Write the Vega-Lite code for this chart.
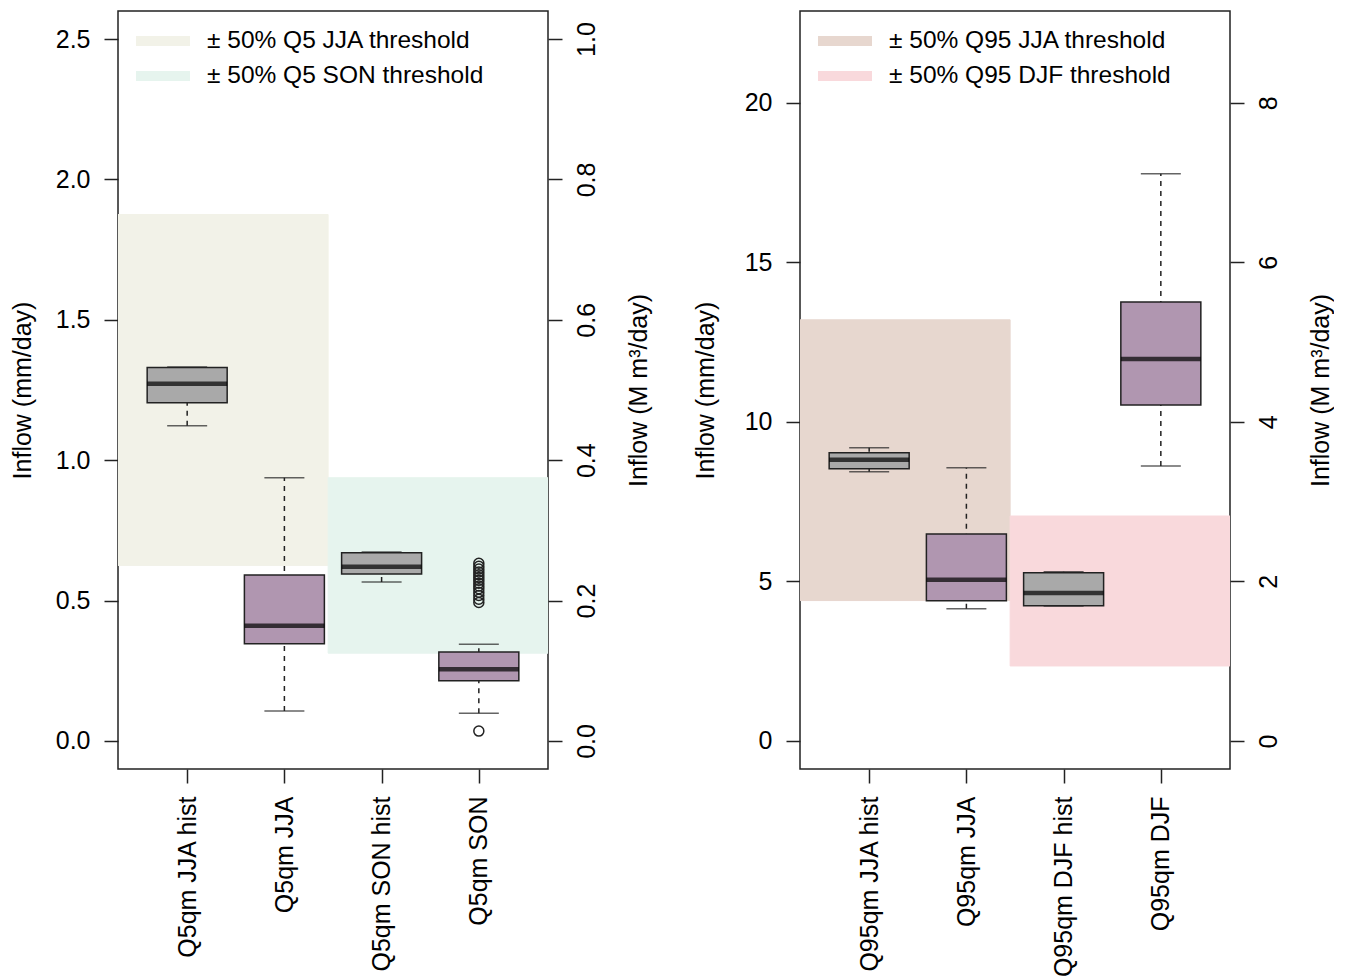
{
  "$schema": "https://vega.github.io/schema/vega-lite/v6.json",
  "padding": {"left": 9, "top": 10, "right": 0, "bottom": 0},
  "background": "white",
  "config": {
    "font": "Liberation Sans",
    "view": {"stroke": "#222", "strokeWidth": 1.5},
    "axis": {
      "grid": false, "domain": false, "tickColor": "#222", "tickWidth": 1.5, "tickSize": 14,
      "labelFontSize": 25, "labelColor": "#000", "labelFont": "Liberation Sans",
      "titleFontSize": 25, "titleFontWeight": "normal", "titleColor": "#000", "titleFont": "Liberation Sans",
      "labelLimit": 400, "labelOverlap": false
    },
    "legend": {
      "orient": "none", "legendX": 30, "legendY": 15, "padding": 0,
      "symbolType": "M-2.7,0H2.7", "symbolSize": 400, "symbolStrokeWidth": 10,
      "labelFontSize": 24.5, "labelColor": "#000", "labelFont": "Liberation Sans", "labelOffset": 29,
      "rowPadding": -15, "labelLimit": 400
    }
  },
  "datasets": {
    "bandL": [
      {"x1": 0, "x2": 2.45, "lo": 0.625, "hi": 1.875, "band": "± 50% Q5 JJA threshold"},
      {"x1": 2.45, "x2": 5, "lo": 0.3125, "hi": 0.9375, "band": "± 50% Q5 SON threshold"}
    ],
    "boxL": [
      {"pos": 1, "kind": "hist", "lower": 1.123, "q1": 1.205, "median": 1.272, "q3": 1.33, "upper": 1.332},
      {"pos": 2, "kind": "future", "lower": 0.107, "q1": 0.346, "median": 0.41, "q3": 0.591, "upper": 0.937},
      {"pos": 3, "kind": "hist", "lower": 0.566, "q1": 0.595, "median": 0.62, "q3": 0.67, "upper": 0.673},
      {"pos": 4, "kind": "future", "lower": 0.099, "q1": 0.214, "median": 0.255, "q3": 0.317, "upper": 0.344}
    ],
    "outL": [
      {"pos": 4, "value": 0.633}, {"pos": 4, "value": 0.622}, {"pos": 4, "value": 0.612},
      {"pos": 4, "value": 0.602}, {"pos": 4, "value": 0.592}, {"pos": 4, "value": 0.582},
      {"pos": 4, "value": 0.572}, {"pos": 4, "value": 0.562}, {"pos": 4, "value": 0.552},
      {"pos": 4, "value": 0.542}, {"pos": 4, "value": 0.53}, {"pos": 4, "value": 0.518},
      {"pos": 4, "value": 0.505}, {"pos": 4, "value": 0.493}, {"pos": 4, "value": 0.035}
    ],
    "bandR": [
      {"x1": 0, "x2": 2.45, "lo": 4.4, "hi": 13.2, "band": "± 50% Q95 JJA threshold"},
      {"x1": 2.45, "x2": 5, "lo": 2.35, "hi": 7.05, "band": "± 50% Q95 DJF threshold"}
    ],
    "boxR": [
      {"pos": 1, "kind": "hist", "lower": 8.44, "q1": 8.53, "median": 8.81, "q3": 9.03, "upper": 9.19},
      {"pos": 2, "kind": "future", "lower": 4.14, "q1": 4.39, "median": 5.05, "q3": 6.49, "upper": 8.56},
      {"pos": 3, "kind": "hist", "lower": 4.23, "q1": 4.24, "median": 4.64, "q3": 5.27, "upper": 5.3},
      {"pos": 4, "kind": "future", "lower": 8.62, "q1": 10.53, "median": 11.97, "q3": 13.76, "upper": 17.78}
    ]
  },
  "hconcat": [
    {
      "width": 430, "height": 758,
      "layer": [
        {
          "data": {"name": "bandL"},
          "mark": {"type": "rect", "clip": true, "strokeWidth": 1},
          "encoding": {
            "x": {"field": "x1", "type": "quantitative", "scale": {"domain": [0.34, 4.66], "nice": false, "zero": false},
              "axis": {"values": [1, 2, 3, 4], "labelExpr": "['', 'Q5qm JJA hist', 'Q5qm JJA', 'Q5qm SON hist', 'Q5qm SON'][datum.value]",
                "labelAngle": 270, "labelAlign": "right", "labelBaseline": "middle", "labelPadding": 13, "title": null}},
            "x2": {"field": "x2"},
            "y": {"field": "lo", "type": "quantitative", "scale": {"domain": [-0.1, 2.6], "nice": false, "zero": false},
              "axis": {"values": [0, 0.5, 1, 1.5, 2, 2.5], "format": ".1f", "title": "Inflow (mm/day)", "labelPadding": 14,
                "titleAngle": 270, "titleBaseline": "middle", "titleX": -96, "titleY": 379}},
            "y2": {"field": "hi"},
            "fill": {"field": "band", "type": "nominal", "scale": {"domain": ["± 50% Q5 JJA threshold", "± 50% Q5 SON threshold"], "range": ["#F2F2E8", "#E6F4EE"]},
              "legend": {"title": null}},
            "stroke": {"field": "band", "type": "nominal", "scale": {"domain": ["± 50% Q5 JJA threshold", "± 50% Q5 SON threshold"], "range": ["#F2F2E8", "#E6F4EE"]},
              "legend": {"title": null}}
          }
        },
        {
          "data": {"name": "boxL"},
          "mark": {"type": "rule", "strokeDash": [5, 5], "strokeWidth": 1.5, "color": "#222"},
          "encoding": {
            "x": {"field": "pos", "type": "quantitative"},
            "y": {"field": "lower", "type": "quantitative",
              "axis": {"orient": "right", "values": [0, 0.5, 1, 1.5, 2, 2.5], "labelExpr": "format(datum.value * 0.4, '.1f')",
                "labelAngle": 270, "labelAlign": "center", "labelBaseline": "top", "labelPadding": 12,
                "title": "Inflow (M m³/day)", "titleAngle": 270, "titleBaseline": "middle", "titleX": 90, "titleY": 379}},
            "y2": {"field": "upper"}
          }
        },
        {
          "data": {"name": "boxL"},
          "mark": {"type": "tick", "orient": "horizontal", "size": 40, "thickness": 1.5, "color": "#222"},
          "encoding": {
            "x": {"field": "pos", "type": "quantitative"},
            "y": {"field": "lower", "type": "quantitative", "axis": null}
          }
        },
        {
          "data": {"name": "boxL"},
          "mark": {"type": "tick", "orient": "horizontal", "size": 40, "thickness": 1.5, "color": "#222"},
          "encoding": {
            "x": {"field": "pos", "type": "quantitative"},
            "y": {"field": "upper", "type": "quantitative", "axis": null}
          }
        },
        {
          "data": {"name": "boxL"},
          "mark": {"type": "bar", "orient": "vertical", "size": 80, "stroke": "#222", "strokeWidth": 1.5},
          "encoding": {
            "x": {"field": "pos", "type": "quantitative"},
            "y": {"field": "q1", "type": "quantitative", "axis": null},
            "y2": {"field": "q3"},
            "color": {"field": "kind", "type": "nominal", "scale": {"domain": ["hist", "future"], "range": ["#A9A9A9", "#B096B0"]}, "legend": null}
          }
        },
        {
          "data": {"name": "boxL"},
          "mark": {"type": "tick", "orient": "horizontal", "size": 80, "thickness": 4.5, "color": "#000"},
          "encoding": {
            "x": {"field": "pos", "type": "quantitative"},
            "y": {"field": "median", "type": "quantitative", "axis": null}
          }
        },
        {
          "data": {"name": "outL"},
          "mark": {"type": "point", "shape": "circle", "filled": false, "size": 100, "stroke": "#222", "strokeWidth": 1.5, "opacity": 1},
          "encoding": {
            "x": {"field": "pos", "type": "quantitative"},
            "y": {"field": "value", "type": "quantitative", "axis": null}
          }
        }
      ],
      "resolve": {"axis": {"y": "independent"}}
    },
    {
      "width": 430, "height": 758,
      "layer": [
        {
          "data": {"name": "bandR"},
          "mark": {"type": "rect", "clip": true, "strokeWidth": 1},
          "encoding": {
            "x": {"field": "x1", "type": "quantitative", "scale": {"domain": [0.34, 4.66], "nice": false, "zero": false},
              "axis": {"values": [1, 2, 3, 4], "labelExpr": "['', 'Q95qm JJA hist', 'Q95qm JJA', 'Q95qm DJF hist', 'Q95qm DJF'][datum.value]",
                "labelAngle": 270, "labelAlign": "right", "labelBaseline": "middle", "labelPadding": 13, "title": null}},
            "x2": {"field": "x2"},
            "y": {"field": "lo", "type": "quantitative", "scale": {"domain": [-0.88, 22.88], "nice": false, "zero": false},
              "axis": {"values": [0, 5, 10, 15, 20], "format": "d", "title": "Inflow (mm/day)", "labelPadding": 14,
                "titleAngle": 270, "titleBaseline": "middle", "titleX": -95, "titleY": 379}},
            "y2": {"field": "hi"},
            "fill": {"field": "band", "type": "nominal", "scale": {"domain": ["± 50% Q95 JJA threshold", "± 50% Q95 DJF threshold"], "range": ["#E7D7CF", "#F9D9DC"]},
              "legend": {"title": null}},
            "stroke": {"field": "band", "type": "nominal", "scale": {"domain": ["± 50% Q95 JJA threshold", "± 50% Q95 DJF threshold"], "range": ["#E7D7CF", "#F9D9DC"]},
              "legend": {"title": null}}
          }
        },
        {
          "data": {"name": "boxR"},
          "mark": {"type": "rule", "strokeDash": [5, 5], "strokeWidth": 1.5, "color": "#222"},
          "encoding": {
            "x": {"field": "pos", "type": "quantitative"},
            "y": {"field": "lower", "type": "quantitative",
              "axis": {"orient": "right", "values": [0, 5, 10, 15, 20], "labelExpr": "format(datum.value * 0.4, '.0f')",
                "labelAngle": 270, "labelAlign": "center", "labelBaseline": "top", "labelPadding": 12,
                "title": "Inflow (M m³/day)", "titleAngle": 270, "titleBaseline": "middle", "titleX": 90, "titleY": 379}},
            "y2": {"field": "upper"}
          }
        },
        {
          "data": {"name": "boxR"},
          "mark": {"type": "tick", "orient": "horizontal", "size": 40, "thickness": 1.5, "color": "#222"},
          "encoding": {
            "x": {"field": "pos", "type": "quantitative"},
            "y": {"field": "lower", "type": "quantitative", "axis": null}
          }
        },
        {
          "data": {"name": "boxR"},
          "mark": {"type": "tick", "orient": "horizontal", "size": 40, "thickness": 1.5, "color": "#222"},
          "encoding": {
            "x": {"field": "pos", "type": "quantitative"},
            "y": {"field": "upper", "type": "quantitative", "axis": null}
          }
        },
        {
          "data": {"name": "boxR"},
          "mark": {"type": "bar", "orient": "vertical", "size": 80, "stroke": "#222", "strokeWidth": 1.5},
          "encoding": {
            "x": {"field": "pos", "type": "quantitative"},
            "y": {"field": "q1", "type": "quantitative", "axis": null},
            "y2": {"field": "q3"},
            "color": {"field": "kind", "type": "nominal", "scale": {"domain": ["hist", "future"], "range": ["#A9A9A9", "#B096B0"]}, "legend": null}
          }
        },
        {
          "data": {"name": "boxR"},
          "mark": {"type": "tick", "orient": "horizontal", "size": 80, "thickness": 4.5, "color": "#000"},
          "encoding": {
            "x": {"field": "pos", "type": "quantitative"},
            "y": {"field": "median", "type": "quantitative", "axis": null}
          }
        }
      ],
      "resolve": {"axis": {"y": "independent"}}
    }
  ],
  "spacing": 252,
  "bounds": "flush",
  "resolve": {"scale": {"x": "independent", "y": "independent", "fill": "independent", "stroke": "independent", "color": "independent"}}
}
